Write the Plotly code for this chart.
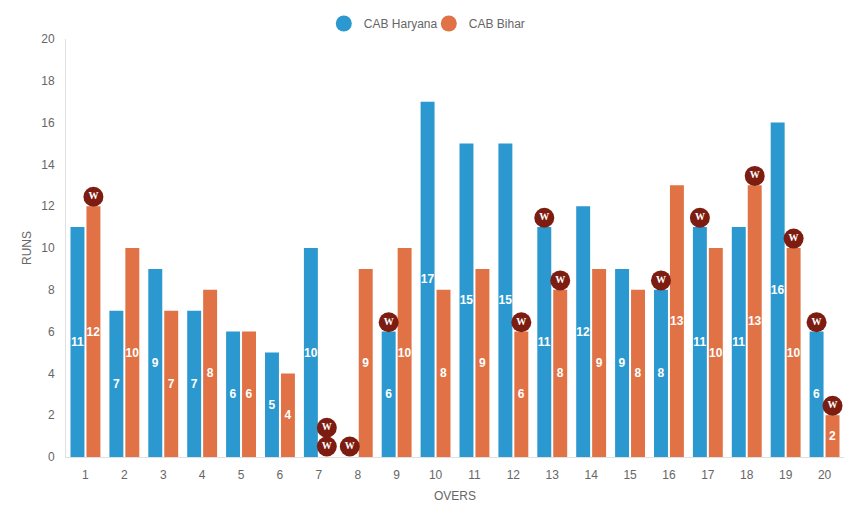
import plotly.graph_objects as go

overs = list(range(1, 21))
haryana = [11, 7, 9, 7, 6, 5, 10, 0, 6, 17, 15, 15, 11, 12, 9, 8, 11, 11, 16, 6]
bihar = [12, 10, 7, 8, 6, 4, 0, 9, 10, 8, 9, 6, 8, 9, 8, 13, 10, 13, 10, 2]
wk_haryana_over = [8, 9, 13, 16, 17, 20]
wk_haryana_y = [0.5, 6.45, 11.45, 8.45, 11.45, 6.45]
wk_bihar_over = [1, 7, 7, 12, 13, 18, 19, 20]
wk_bihar_y = [12.45, 0.5, 1.4, 6.45, 8.45, 13.45, 10.45, 2.45]

BLUE = "#2b99cf"
ORANGE = "#e07246"
WK = "#7d1d12"
GREY = "#666666"
FONT = "Liberation Sans"
SLOT = 0.205


def labels(vals):
    return [str(v) if v else "" for v in vals]


fig = go.Figure()
for name, vals, col in [("CAB Haryana", haryana, BLUE), ("CAB Bihar", bihar, ORANGE)]:
    fig.add_trace(go.Bar(
        x=overs, y=vals, name=name, marker=dict(color=col, line=dict(width=0)),
        text=labels(vals), textposition="inside", insidetextanchor="middle", textangle=0,
        constraintext="none",
        textfont=dict(color="white", size=12, family=FONT, weight="bold"),
        showlegend=False, hoverinfo="x+y+name",
    ))
for name, col in [("CAB Haryana", BLUE), ("CAB Bihar", ORANGE)]:
    fig.add_trace(go.Scatter(
        x=[None], y=[None], mode="markers", name=name,
        marker=dict(color=col, size=16, symbol="circle"),
    ))
for xs, ys, off in [(wk_haryana_over, wk_haryana_y, -SLOT), (wk_bihar_over, wk_bihar_y, SLOT)]:
    fig.add_trace(go.Scatter(
        x=[v + off for v in xs], y=ys, mode="markers+text", text=["W"] * len(xs),
        textposition="middle center",
        textfont=dict(color="white", size=10, family="Liberation Serif", weight="bold"),
        marker=dict(color=WK, size=20, line=dict(width=0)),
        showlegend=False, cliponaxis=False, hoverinfo="skip",
    ))

fig.update_layout(
    width=845, height=500, autosize=False,
    margin=dict(l=58, r=9, t=31, b=51, autoexpand=False),
    paper_bgcolor="white", plot_bgcolor="white",
    font=dict(family=FONT, size=12, color=GREY),
    barmode="group", bargap=0.18, bargroupgap=0.125,
    showlegend=True,
    legend=dict(orientation="h", x=0.498, xref="container", xanchor="center", y=0.998, yref="container",
                yanchor="top", font=dict(size=12, color=GREY), itemsizing="trace",
                itemwidth=30, entrywidth=60, entrywidthmode="pixels", tracegroupgap=0,
                bgcolor="rgba(0,0,0,0)"),
)
fig.update_xaxes(
    range=[0.5, 20.5], tickmode="array", tickvals=overs, ticktext=[str(o) for o in overs],
    showgrid=False, zeroline=False, showline=True, linecolor="#e0e0e0", linewidth=1,
    ticks="outside", ticklen=7, tickcolor="rgba(0,0,0,0)",
    title=dict(text="OVERS", font=dict(size=12, color=GREY), standoff=10),
    tickfont=dict(size=12, color=GREY),
)
fig.update_yaxes(
    range=[0, 20], dtick=2, showgrid=False, zeroline=False, showline=True,
    linecolor="#e0e0e0", linewidth=1,
    ticks="outside", ticklen=8, tickcolor="rgba(0,0,0,0)",
    title=dict(text="RUNS", font=dict(size=12, color=GREY), standoff=7),
    tickfont=dict(size=12, color=GREY),
)
fig.write_html("out.html")
